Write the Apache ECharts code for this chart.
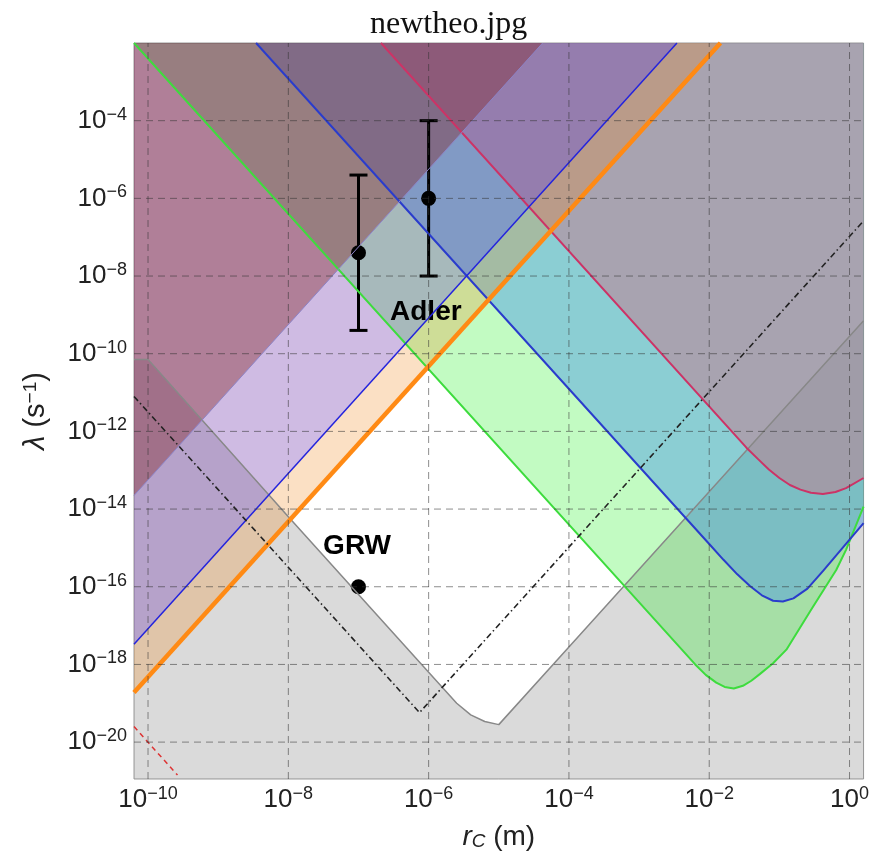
<!DOCTYPE html>
<html>
<head>
<meta charset="utf-8">
<script src="https://cdn.jsdelivr.net/npm/echarts@6/dist/echarts.min.js"></script>
<style>
html, body { margin: 0; padding: 0; background: #fff; }
#chart { width: 872px; height: 858px; }
</style>
</head>
<body>
<div id="chart"></div>
<script>
// axes are log10 values: x = log10(r_C / m), y = log10(lambda / s^-1)
var xMin = -10.2, xMax = 0.2, yMin = -20.95, yMax = -2;
var xTicks = [-10, -8, -6, -4, -2, 0];
var yTicks = [-20, -18, -16, -14, -12, -10, -8, -6, -4];

// boundary curves
var grayCurve = [[-10.2, -10.15], [-10.0, -10.15], [-8.0, -14.2], [-6.0, -18.2], [-5.6, -19.0],
  [-5.4, -19.3], [-5.2, -19.47], [-5.0, -19.55], [-4.0, -17.55], [0.2, -9.15]];
var greenCurve = [[-10.2, -2], [-2.2, -18.0], [-2.05, -18.27], [-1.9, -18.47], [-1.78, -18.58],
  [-1.65, -18.62], [-1.52, -18.55], [-1.4, -18.42], [-1.28, -18.25], [-1.09, -17.97],
  [-0.9, -17.62], [-0.55, -16.6], [-0.19, -15.57], [-0.05, -15.05], [0.2, -13.94]];
var blueCurve = [[-8.46, -2], [-2.3, -14.3], [-2.0, -14.9], [-1.8, -15.3], [-1.6, -15.68],
  [-1.42, -15.98], [-1.25, -16.22], [-1.09, -16.36], [-0.95, -16.38], [-0.8, -16.3],
  [-0.6, -16.05], [-0.38, -15.6], [0.2, -14.36]];
var redCurve = [[-6.68, -2], [-1.47, -12.42], [-1.3, -12.72], [-1.15, -12.98], [-1.0, -13.2],
  [-0.85, -13.38], [-0.7, -13.5], [-0.55, -13.58], [-0.38, -13.61], [-0.2, -13.56],
  [-0.05, -13.46], [0.2, -13.2]];
var blueRise = [[-10.2, -17.48], [-2.46, -2]];
var orangeRise = [[-10.2, -18.72], [-1.84, -2]];
var maroonRise = [[-10.2, -13.65], [-4.375, -2]];
var dotDash = [[-10.2, -11.1], [-6.13, -19.24], [0.2, -6.58]];
var redDash = [[-10.2, -19.6], [-9.58, -20.85]];

// experimental points with error bars
var expPoints = [[-7, -7.4], [-6, -6]];
var expLow = [-9.4, -8];
var expHigh = [-5.4, -4];
var grwPoint = [[-7, -16]];

var chart = echarts.init(document.getElementById('chart'));
var FONT = 'Liberation Sans, Arial, sans-serif';

function area(pts, fill) {
  return {
    type: 'custom',
    clip: true,
    silent: true,
    data: [pts[0]],
    encode: { x: 0, y: 1 },
    renderItem: function (params, api) {
      return {
        type: 'polygon',
        shape: { points: pts.map(function (p) { return api.coord(p); }) },
        style: { fill: fill }
      };
    }
  };
}

function stroke(pts, color, width, type) {
  return {
    type: 'line',
    data: pts,
    symbol: 'none',
    silent: true,
    clip: true,
    lineStyle: { color: color, width: width, type: type || 'solid' }
  };
}

var top2 = [[xMax, yMax]];
var series = [
  area(grayCurve.concat([[xMax, yMin], [xMin, yMin]]), 'rgba(120,120,120,0.27)'),
  stroke(grayCurve, '#888888', 1.5),
  area(greenCurve.concat(top2), 'rgba(0,240,0,0.24)'),
  stroke(greenCurve, '#3ddc3d', 2),
  area(blueCurve.concat(top2), 'rgba(70,150,230,0.45)'),
  stroke(blueCurve, '#2a3ccc', 2),
  area(redCurve.concat(top2), 'rgba(198,122,142,0.5)'),
  stroke(redCurve, '#cc3366', 2),
  area(blueRise.concat([[xMin, yMax]]), 'rgba(110,50,170,0.33)'),
  stroke(blueRise, '#2424dd', 1.5),
  area(orangeRise.concat(blueRise.slice().reverse()), 'rgba(240,130,20,0.25)'),
  stroke(orangeRise, '#ff8a14', 4.5),
  area(maroonRise.concat([[xMin, yMax]]), 'rgba(130,37,40,0.4)'),
  stroke(maroonRise, '#8c84c8', 1),
  stroke(dotDash, '#222222', 1.6, [6, 3, 1.5, 3]),
  stroke(redDash, '#dd3333', 1.5, [5, 4])
];

// dashed grid on top
xTicks.forEach(function (t) {
  series.push(stroke([[t, yMin], [t, yMax]], 'rgba(50,50,50,0.55)', 1, [7, 5]));
});
yTicks.forEach(function (t) {
  series.push(stroke([[xMin, t], [xMax, t]], 'rgba(50,50,50,0.55)', 1, [7, 5]));
});

series.push({
  type: 'custom',
  data: expPoints.map(function (p, i) { return [p[0], p[1], expLow[i], expHigh[i]]; }),
  encode: { x: 0, y: 1 },
  renderItem: function (params, api) {
    var lo = api.coord([api.value(0), api.value(2)]);
    var hi = api.coord([api.value(0), api.value(3)]);
    var st = { stroke: '#000', lineWidth: 3 };
    return {
      type: 'group',
      children: [
        { type: 'line', shape: { x1: lo[0], y1: lo[1], x2: hi[0], y2: hi[1] }, style: st },
        { type: 'line', shape: { x1: lo[0] - 9, y1: lo[1], x2: lo[0] + 9, y2: lo[1] }, style: st },
        { type: 'line', shape: { x1: hi[0] - 9, y1: hi[1], x2: hi[0] + 9, y2: hi[1] }, style: st }
      ]
    };
  }
});
series.push({
  type: 'scatter', data: expPoints.concat(grwPoint), symbolSize: 15,
  itemStyle: { color: '#000', opacity: 1 }, silent: true
});
// text annotations
series.push({
  type: 'scatter', symbolSize: 0, silent: true,
  itemStyle: { opacity: 1 },
  data: [
    { value: [-7.02, -14.95], label: { formatter: 'GRW' } },
    { value: [-6.04, -8.94], label: { formatter: 'Adler' } }
  ],
  label: { show: true, position: 'inside', fontFamily: FONT, fontWeight: 'bold', fontSize: 28, color: '#000' }
});

function powLabel(v) {
  return '{b|10}{s|' + (v === 0 ? '0' : '\u2212' + (-v)) + '}';
}
var labelRich = {
  b: { fontFamily: FONT, fontSize: 26, color: '#222', lineHeight: 30 },
  s: { fontFamily: FONT, fontSize: 18, color: '#222', verticalAlign: 'top', lineHeight: 18 }
};

chart.setOption({
  animation: false,
  graphic: [{
    type: 'text', left: 370, top: 9,
    style: { text: 'newtheo.jpg', font: '32px "Liberation Serif", "Times New Roman", serif', fill: '#111' }
  }],
  grid: { left: 134, right: 4, top: 43, bottom: 79, show: true, borderColor: '#999', borderWidth: 1 },
  xAxis: {
    type: 'value', min: xMin, max: xMax,
    axisLine: { show: false }, axisTick: { show: false }, splitLine: { show: false },
    axisLabel: { customValues: xTicks, formatter: powLabel, rich: labelRich, margin: 6 },
    name: '{i|r}{c|C} (m)', nameLocation: 'middle', nameGap: 44,
    nameTextStyle: {
      fontFamily: FONT, fontSize: 28, color: '#222',
      rich: {
        i: { fontFamily: FONT, fontSize: 28, fontStyle: 'italic', color: '#222' },
        c: { fontFamily: FONT, fontSize: 19, fontStyle: 'italic', color: '#222', verticalAlign: 'bottom' }
      }
    }
  },
  yAxis: {
    type: 'value', min: yMin, max: yMax,
    axisLine: { show: false }, axisTick: { show: false }, splitLine: { show: false },
    axisLabel: { customValues: yTicks, formatter: powLabel, rich: labelRich, margin: 7 },
    name: '{l|\u03bb} (s{s|\u22121})', nameLocation: 'middle', nameGap: 84,
    nameTextStyle: {
      fontFamily: FONT, fontSize: 29, color: '#222',
      rich: {
        l: { fontFamily: FONT, fontSize: 29, fontStyle: 'italic', color: '#222' },
        s: { fontFamily: FONT, fontSize: 19, color: '#222', verticalAlign: 'top' }
      }
    }
  },
  series: series
});

window.addEventListener('resize', function () {
  chart.resize();
});
</script>
</body>
</html>
